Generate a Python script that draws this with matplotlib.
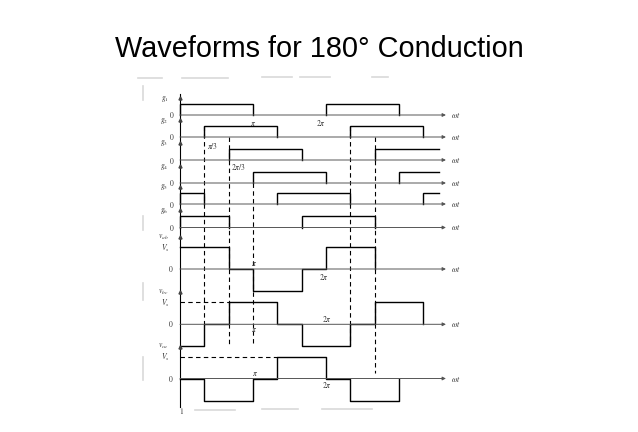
import numpy as np
import matplotlib
matplotlib.use("Agg")
import matplotlib.pyplot as plt

plt.rcParams["mathtext.fontset"] = "stix"

# gate signals: on-intervals in steps of pi/3 (None = still on at the right edge)
g1_on = [(0, 3), (6, 9)]
g2_on = [(1, 4), (7, 10)]
g3_on = [(2, 5), (8, None)]
g4_on = [(3, 6), (9, None)]
g5_on = [(0, 1), (4, 7), (10, None)]
g6_on = [(0, 2), (5, 8)]
gate_names = ["$g_1$", "$g_2$", "$g_3$", "$g_4$", "$g_5$", "$g_6$"]

# line voltages, one level per pi/3 interval (+1 = Vs, -1 = -Vs)
vab = [1, 1, 0, -1, -1, 0, 1, 1]
vbc = [-1, 0, 1, 1, 0, -1, -1, 0, 1, 1]
vca = [0, -1, -1, 0, 1, 1, 0, -1, -1]
volt_names = ["$v_{ab}$", "$v_{bc}$", "$v_{ca}$"]

# dashed projection lines, in steps of pi/3
dash_at = [1, 2, 3, 7, 8]

# ---- layout (vertical positions in figure pixels, x in pi/3 steps) ----
W, H, DPI = 638, 432, 100
STEP_PX = 24.33          # pixels per pi/3
X0_PX = 180              # pixel column of wt = 0
gate_base = [115, 137, 160, 183, 204, 227.5]
gate_h = 11.5
volt_base = [269, 324.3, 378.5]
volt_h = 22
dash_span = [(126, 324), (137, 345), (183, 345), (126, 345), (137, 373)]
G_END = 10.65
AX_END = 10.93

fig = plt.figure(figsize=(W / DPI, H / DPI), dpi=DPI)
ax = fig.add_axes([0, 0, 1, 1])
ax.set_xlim(-X0_PX / STEP_PX, (W - X0_PX) / STEP_PX)
ax.set_ylim(H, 0)
ax.axis("off")

LW = 1.0
lab = dict(fontsize=5.5, color="#333333", ha="center", va="center")


def axis_line(y):
    ax.annotate("", xy=(AX_END, y), xytext=(0, y),
                arrowprops=dict(arrowstyle="-|>", lw=0.7, color="#555555",
                                mutation_scale=5, shrinkA=0, shrinkB=0))
    ax.text(AX_END + 0.42, y, r"$\omega t$", **lab)


# faint scan artefacts of the slide
art = "#d9d9d9"
for x0, x1, y in [(138, 162, 78), (182, 228, 78), (262, 292, 77), (300, 330, 77),
                  (372, 388, 77), (195, 235, 410), (262, 298, 409), (322, 372, 409)]:
    ax.plot([(x0 - X0_PX) / STEP_PX, (x1 - X0_PX) / STEP_PX], [y, y], color=art, lw=1.2)
for y0, y1 in [(86, 100), (216, 230), (283, 300), (357, 380)]:
    ax.plot([-37 / STEP_PX] * 2, [y0, y1], color=art, lw=1.2)

# vertical axis
ax.plot([0, 0], [94, 407], color="k", lw=0.8)

# gate rows
for ons, base, name in zip([g1_on, g2_on, g3_on, g4_on, g5_on, g6_on], gate_base, gate_names):
    axis_line(base)
    top = base - gate_h
    for a, b in ons:
        xs = [a, a]
        ys = [base, top]
        if b is None:
            xs += [G_END]
            ys += [top]
        else:
            xs += [b, b]
            ys += [top, base]
        ax.plot(xs, ys, color="k", lw=LW, solid_joinstyle="miter")
    ax.plot(0, top - 6, marker="^", ms=2.2, color="#444444")
    ax.text(-15.5 / STEP_PX, top - 5, name, **lab)
    ax.text(-8.5 / STEP_PX, base + 0.5, "$0$", **lab)

# line-voltage rows
for levels, base, name in zip([vab, vbc, vca], volt_base, volt_names):
    axis_line(base)
    n = len(levels)
    xs = np.repeat(np.arange(n + 1), 2)[1:-1]
    ys = base - volt_h * np.repeat(levels, 2)
    ax.plot(np.r_[xs, n], np.r_[ys, base], color="k", lw=LW)
    ax.text(-17 / STEP_PX, base - volt_h - 10, name, **lab)
    ax.text(-15 / STEP_PX, base - volt_h + 1, "$V_s$", **lab)
    ax.text(-9 / STEP_PX, base, "$0$", **lab)
    ax.plot(0, base - volt_h - 10, marker="^", ms=2.2, color="#444444")
ax.text(1.5 / STEP_PX, 411, "$1$", **lab)

# horizontal dashed Vs projections
for levels, base in zip([vbc, vca], volt_base[1:]):
    first = levels.index(1)
    ax.plot([0, first], [base - volt_h] * 2, color="k", lw=0.8, ls=(0, (4, 3)))

# vertical dashed projections
for s, (y0, y1) in zip(dash_at, dash_span):
    ax.plot([s, s], [y0, y1], color="k", lw=0.8, ls=(0, (4, 3)))

# angle annotations
ax.text(3, 123, r"$\pi$", **lab)
ax.text(5.8, 123, r"$2\pi$", **lab)
ax.text(1.35, 145.7, r"$\pi/3$", **lab)
ax.text(2.4, 166.7, r"$2\pi/3$", **lab)
ax.text(3.05, 264, r"$\pi$", **lab)
ax.text(5.9, 277, r"$2\pi$", **lab)
ax.text(3.05, 330, r"$\pi$", **lab)
ax.text(6.05, 319, r"$2\pi$", **lab)
ax.text(3.1, 373, r"$\pi$", **lab)
ax.text(6.05, 385, r"$2\pi$", **lab)

fig.text(0.5, 1 - 49 / H, "Waveforms for 180° Conduction",
         ha="center", va="center", fontsize=20.8,
         family=["Liberation Sans", "DejaVu Sans"])

fig.savefig("out.png", dpi=DPI, facecolor="white")
